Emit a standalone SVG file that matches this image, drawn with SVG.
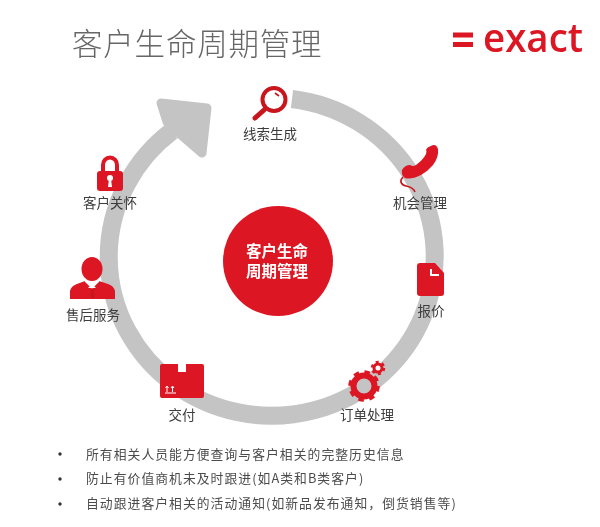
<svg xmlns="http://www.w3.org/2000/svg" width="600" height="527" viewBox="0 0 600 527">
<style>
text{font-family:"Noto Sans CJK SC","Noto Sans",sans-serif}
.t{fill:#3c3c3c;font-size:13.5px;text-anchor:middle}
.b{fill:#4c4c4c;font-size:12.8px;letter-spacing:1.05px}
.r{fill:#dc1522}
.c{fill:#fff;font-size:15.5px;font-weight:700;text-anchor:middle}
</style>
<defs><filter id="s" x="-5%" y="-5%" width="110%" height="110%"><feGaussianBlur stdDeviation="0.45"/></filter></defs>
<rect width="600" height="527" fill="#fff"/>
<g filter="url(#s)">
<text x="72" y="55" font-size="30.5" letter-spacing="0.8" fill="#666" font-weight="300">客户生命周期管理</text>
<g id="logo">
<rect class="r" x="453" y="32.5" width="20" height="5"/>
<rect class="r" x="453" y="42" width="20" height="5"/>
<text x="483" y="52" font-size="39" font-weight="600" fill="#dc1522" textLength="100" lengthAdjust="spacingAndGlyphs" style="font-family:'Open Sans',sans-serif">exact</text>
</g>
<g id="connectors">
<path d="M292 99A163 159 0 1 1 172 131" fill="none" stroke="#c4c4c4" stroke-width="18"/>
<path d="M161 103L207 108L202 153L180 134L167 122Z" fill="#c4c4c4" stroke="#c4c4c4" stroke-width="9" stroke-linejoin="round"/>
</g>
<g id="center">
<circle class="r" cx="278" cy="261" r="55"/>
<text class="c"><tspan x="277" y="257">客户生命</tspan><tspan x="277" y="277">周期管理</tspan></text>
</g>
<g id="node-lead">
<circle cx="274" cy="99.500" r="11.500" fill="#fff" stroke="#c8141f" stroke-width="4"/>
<path d="M264 110L255 118" stroke="#c8141f" stroke-width="5" stroke-linecap="round"/>
<path d="M275 93L279 96" stroke="#c8141f" stroke-width="1.600"/>
<text class="t" x="270" y="139">线索生成</text>
</g>
<g id="node-opportunity">
<path class="r" d="M431 146Q436 143 438 149Q439 157 433 165Q428 171 421 175Q411 180 405 178Q401 175 402 170Q405 165 410 165Q413 167 416 165Q423 160 426 154Q427 151 426 150Q427 147 431 146Z"/>
<path d="M403 177C399 181 401 185 406 186C411 187 414 189 415 192" fill="none" stroke="#c8141f" stroke-width="1.600"/>
<text class="t" x="420" y="208">机会管理</text>
</g>
<g id="node-quote">
<path class="r" d="M420 263H435L444 273V293Q444 296 441 296H420Q417 296 417 293V266Q417 263 420 263Z"/>
<path d="M431 269V275H439" fill="none" stroke="#fff" stroke-width="2"/>
<text class="t" x="431" y="316">报价</text>
</g>
<g id="node-order">
<circle cx="364" cy="386" r="10.500" fill="#c4c4c4" stroke="#dc1522" stroke-width="6"/>
<circle cx="364" cy="386" r="14" fill="none" stroke="#dc1522" stroke-width="3.500" stroke-dasharray="5.500 5.500"/>
<circle cx="378" cy="368" r="4" fill="#fff" stroke="#dc1522" stroke-width="3"/>
<circle cx="378" cy="368" r="6" fill="none" stroke="#dc1522" stroke-width="2.500" stroke-dasharray="3 3.300"/>
<text class="t" x="367" y="420">订单处理</text>
</g>
<g id="node-delivery">
<path class="r" d="M162 364H178V372H186V364H202Q204 364 204 366V396Q204 398 202 398H162Q160 398 160 396V366Q160 364 162 364Z"/>
<path d="M165 393H176M167 392V387M172.500 392V387M165.500 388L167 386L168.500 388M171 388L172.500 386L174 388" fill="none" stroke="#fff" stroke-width="1"/>
<text class="t" x="182" y="420">交付</text>
</g>
<g id="node-service">
<ellipse class="r" cx="92" cy="269" rx="10.500" ry="12"/>
<path class="r" d="M70 299V291Q71 286 77 284L85 281L90 286L88 288H96L94 286L99 281L108 284Q114 286 115 291V299Z"/>
<path d="M92 288L90 296L93 299L95 296L93 288Z" fill="#c8141f"/>
<path d="M85 281L92 288L99 281" fill="none" stroke="#fff" stroke-width="1.200"/>
<text class="t" x="93" y="320">售后服务</text>
</g>
<g id="node-care">
<path d="M103 173V165A7 7.500 0 0 1 117 165V173" fill="none" stroke="#dc1522" stroke-width="4"/>
<rect class="r" x="97" y="171" width="26" height="20" rx="3"/>
<circle cx="110" cy="178" r="3" fill="#fff"/>
<path d="M109 179H111L112 187H108Z" fill="#fff"/>
<text class="t" x="110" y="208">客户关怀</text>
</g>
<g id="notes">
<circle cx="60" cy="454" r="1.700" fill="#333"/>
<circle cx="60" cy="479" r="1.700" fill="#333"/>
<circle cx="60" cy="504" r="1.700" fill="#333"/>
<text class="b" x="86" y="459">所有相关人员能方便查询与客户相关的完整历史信息</text>
<text class="b" x="86" y="483">防止有价值商机未及时跟进(如A类和B类客户)</text>
<text class="b" x="86" y="508">自动跟进客户相关的活动通知(如新品发布通知，倒货销售等)</text>
</g>
</g>
</svg>
